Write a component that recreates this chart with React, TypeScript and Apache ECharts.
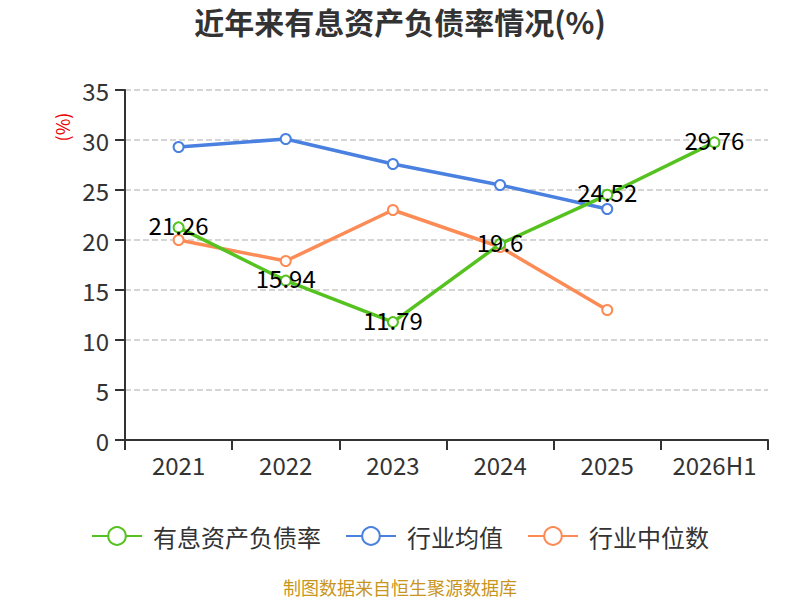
import React, { useEffect, useRef } from "react";
import * as echarts from "echarts";

const categories = ["2021", "2022", "2023", "2024", "2025", "2026H1"];
const debtRatio = [21.26, 15.94, 11.79, 19.6, 24.52, 29.76];
const industryAvg = [29.3, 30.1, 27.6, 25.5, 23.1, null];
const industryMedian = [20.0, 17.9, 23.0, 19.3, 13.0, null];
const seriesNames = ["有息资产负债率", "行业均值", "行业中位数"];
const colors = ["#55c21f", "#4a80e0", "#fd8b56"];

const FONT = "'Noto Sans CJK SC', 'Noto Sans', sans-serif";

export default function App() {
  const ref = useRef<HTMLDivElement>(null);
  useEffect(() => {
    if (!ref.current) return;
    const chart = echarts.init(ref.current, null, { renderer: "svg" });
    const mk = (i: number, data: (number | null)[], label: boolean) => ({
      name: seriesNames[i],
      type: "line",
      data,
      symbol: "emptyCircle",
      symbolSize: 10,
      lineStyle: { width: 3.5, color: colors[i] },
      itemStyle: { color: colors[i], borderWidth: 2 },
      label: label
        ? {
            show: true,
            position: "inside",
            offset: [0, -3],
            color: "#000",
            fontSize: 24,
            fontFamily: FONT,
          }
        : { show: false },
      z: i === 0 ? 3 : 2,
    });
    chart.setOption({
      animation: false,
      textStyle: { fontFamily: FONT },
      title: {
        text: "近年来有息资产负债率情况(%)",
        left: "center",
        top: 1,
        textStyle: { fontSize: 30, fontWeight: "bold", color: "#333", fontFamily: FONT },
      },
      grid: { left: 125, right: 32, top: 90, bottom: 160 },
      legend: {
        top: 519,
        left: "center",
        itemWidth: 50,
        itemHeight: 22,
        itemGap: 24,
        textStyle: { fontSize: 24, color: "#333", fontFamily: FONT, padding: [0, 0, 0, 6] },
        data: seriesNames.map((n) => ({ name: n, itemStyle: { borderWidth: 2 } })),
      },
      xAxis: {
        type: "category",
        data: categories,
        boundaryGap: true,
        axisLine: { lineStyle: { color: "#333", width: 2 } },
        axisTick: { show: true, length: 10, lineStyle: { color: "#333", width: 2 } },
        axisLabel: { fontSize: 24, color: "#333", margin: 12, interval: 0, fontFamily: FONT },
      },
      yAxis: {
        type: "value",
        min: 0,
        max: 35,
        interval: 5,
        axisLine: { show: true, lineStyle: { color: "#333", width: 2 } },
        axisTick: { show: true, length: 10, lineStyle: { color: "#333", width: 2 } },
        axisLabel: { fontSize: 24, color: "#333", margin: 16, fontFamily: FONT },
        splitLine: { lineStyle: { type: "dashed", color: "#c8c8c8", width: 1.5 } },
      },
      graphic: [
        {
          type: "text",
          x: 62,
          y: 127,
          rotation: Math.PI / 2,
          style: {
            text: "(%)",
            fill: "#e00",
            fontSize: 18,
            fontFamily: FONT,
            align: "center",
            verticalAlign: "middle",
          },
        },
        {
          type: "text",
          x: 400,
          y: 587,
          style: {
            text: "制图数据来自恒生聚源数据库",
            fill: "#c8951e",
            fontSize: 18,
            fontFamily: FONT,
            align: "center",
            verticalAlign: "middle",
          },
        },
      ],
      series: [
        mk(0, debtRatio, true),
        mk(1, industryAvg, false),
        mk(2, industryMedian, false),
      ],
    });
    return () => chart.dispose();
  }, []);
  return (
    <div
      ref={ref}
      style={{ position: "fixed", left: 0, top: 0, width: 800, height: 600, background: "#fff" }}
    />
  );
}
